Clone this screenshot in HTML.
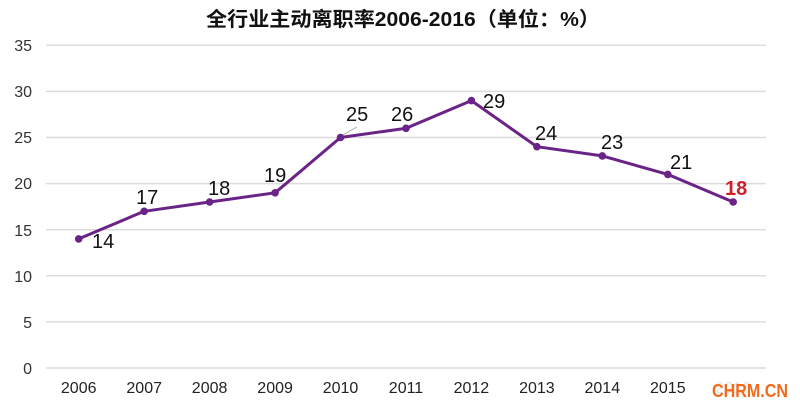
<!DOCTYPE html>
<html>
<head>
<meta charset="utf-8">
<style>
  html, body { margin: 0; padding: 0; background: #ffffff; }
  body { width: 800px; height: 408px; overflow: hidden; }
  svg { display: block; }
  text { font-family: "Liberation Sans", "Noto Sans CJK SC", sans-serif; }
</style>
</head>
<body>
<svg width="800" height="408" viewBox="0 0 800 408" xmlns="http://www.w3.org/2000/svg">
  <rect x="0" y="0" width="800" height="408" fill="#ffffff"/>

  <!-- Title -->
  <text x="206" y="26" font-size="20" font-weight="bold" fill="#111" textLength="394" lengthAdjust="spacingAndGlyphs">全行业主动离职率2006-2016（单位：%）</text>

  <!-- Gridlines -->
  <g stroke="#dcdcdc" stroke-width="1.5">
    <line x1="46" y1="45.3" x2="766" y2="45.3"/>
    <line x1="46" y1="91.4" x2="766" y2="91.4"/>
    <line x1="46" y1="137.5" x2="766" y2="137.5"/>
    <line x1="46" y1="183.6" x2="766" y2="183.6"/>
    <line x1="46" y1="229.7" x2="766" y2="229.7"/>
    <line x1="46" y1="275.8" x2="766" y2="275.8"/>
    <line x1="46" y1="321.9" x2="766" y2="321.9"/>
    <line x1="46" y1="368" x2="766" y2="368"/>
  </g>

  <!-- Y axis labels -->
  <g font-size="16" fill="#333" text-anchor="end">
    <text x="32" y="51">35</text>
    <text x="32" y="97">30</text>
    <text x="32" y="143">25</text>
    <text x="32" y="189">20</text>
    <text x="32" y="236">15</text>
    <text x="32" y="282">10</text>
    <text x="32" y="328">5</text>
    <text x="32" y="374">0</text>
  </g>

  <!-- X axis labels -->
  <g font-size="16" fill="#222" text-anchor="middle">
    <text x="78.7" y="393">2006</text>
    <text x="144.2" y="393">2007</text>
    <text x="209.6" y="393">2008</text>
    <text x="275.1" y="393">2009</text>
    <text x="340.5" y="393">2010</text>
    <text x="406.0" y="393">2011</text>
    <text x="471.4" y="393">2012</text>
    <text x="536.9" y="393">2013</text>
    <text x="602.3" y="393">2014</text>
    <text x="667.8" y="393">2015</text>
    <text x="733.2" y="393" fill="#e6e6e6">2016</text>
  </g>

  <!-- Leader line for 25 -->
  <line x1="341" y1="136" x2="357" y2="127" stroke="#aaaaaa" stroke-width="1"/>

  <!-- Series line -->
  <polyline fill="none" stroke="#6a2387" stroke-width="3" stroke-linejoin="round"
    points="78.7,238.9 144.2,211.3 209.6,202.0 275.1,192.8 340.5,137.5 406.0,128.3 471.4,100.6 536.9,146.7 602.3,155.9 667.8,174.4 733.2,202.0"/>
  <g fill="#6a2387">
    <circle cx="78.7" cy="238.9" r="3.8"/>
    <circle cx="144.2" cy="211.3" r="3.8"/>
    <circle cx="209.6" cy="202.0" r="3.8"/>
    <circle cx="275.1" cy="192.8" r="3.8"/>
    <circle cx="340.5" cy="137.5" r="3.8"/>
    <circle cx="406.0" cy="128.3" r="3.8"/>
    <circle cx="471.4" cy="100.6" r="3.8"/>
    <circle cx="536.9" cy="146.7" r="3.8"/>
    <circle cx="602.3" cy="155.9" r="3.8"/>
    <circle cx="667.8" cy="174.4" r="3.8"/>
    <circle cx="733.2" cy="202.0" r="3.8"/>
  </g>

  <!-- Data labels -->
  <g font-size="20" fill="#111">
    <text x="92" y="248">14</text>
    <text x="136" y="204">17</text>
    <text x="208" y="195">18</text>
    <text x="264" y="182">19</text>
    <text x="346" y="121">25</text>
    <text x="391" y="121">26</text>
    <text x="483" y="108">29</text>
    <text x="535" y="140">24</text>
    <text x="601" y="149">23</text>
    <text x="670" y="169">21</text>
  </g>
  <text x="725" y="195" font-size="20" font-weight="bold" fill="#d0202a">18</text>

  <!-- Watermark -->
  <text x="712" y="397" font-size="18" font-weight="bold" fill="#f26a1b" textLength="76" lengthAdjust="spacingAndGlyphs">CHRM.CN</text>
</svg>
</body>
</html>
